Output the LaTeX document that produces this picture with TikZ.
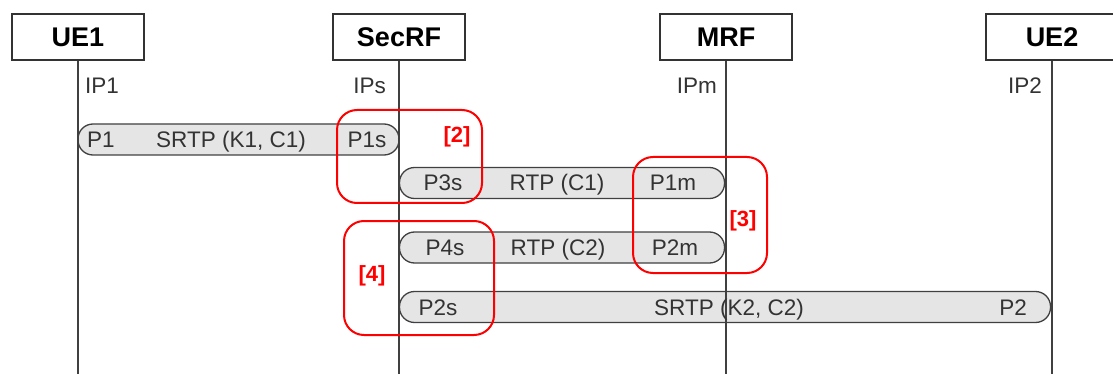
\documentclass[tikz,border=0pt]{standalone}
\usepackage{fontspec}
\setmainfont{Liberation Sans}
\begin{document}
\begin{tikzpicture}[x=1pt,y=-1pt,
 ent/.style={draw=black!80, line width=1.5pt, minimum width=132pt, minimum height=46pt, inner sep=0pt, font=\fontsize{27}{30}\selectfont\bfseries},
 pipe/.style={draw=black!75, line width=1.3pt, fill=black!10, rounded corners=15pt, minimum height=31pt, inner sep=0pt},
 lbl/.style={font=\fontsize{22.5}{26}\selectfont, text=black!80, inner sep=0pt, text height=16pt, text depth=0pt},
 grp/.style={draw=red, line width=2pt, rounded corners=20pt, inner sep=0pt},
 tag/.style={font=\fontsize{22}{24}\selectfont\bfseries, text=red, inner sep=0pt, text height=16pt, text depth=0pt},
 life/.style={draw=black!75, line width=1.3pt}]
\useasboundingbox (0,0) rectangle (1113,374);
% entities
\node[ent] (ue1) at (78,37) {UE1};
\node[ent] (sec) at (399,37) {SecRF};
\node[ent] (mrf) at (726,37) {MRF};
\node[ent] (ue2) at (1052,37) {UE2};
% pipes
\node[pipe, minimum width=321pt] (p1) at (238.5,139.5) {};
\node[pipe, minimum width=325pt] (p2) at (562,183) {};
\node[pipe, minimum width=325pt] (p3) at (562,247.5) {};
\node[pipe, minimum width=651pt] (p4) at (725,307) {};
% lifelines
\coordinate (ue1end) at (78,374);
\coordinate (secend) at (399,374);
\coordinate (mrfend) at (726,374);
\coordinate (ue2end) at (1052,374);
\draw[life] (ue1.south) -- (ue1end);
\draw[life] (sec.south) -- (secend);
\draw[life] (mrf.south) -- (mrfend);
\draw[life] (ue2.south) -- (ue2end);
% IP labels
\node[lbl, anchor=west] (ip1) at (85,86) {IP1};
\node[lbl, anchor=east] (ips) at (386,86) {IPs};
\node[lbl, anchor=east] (ipm) at (717,86) {IPm};
\node[lbl, anchor=east] (ip2) at (1042,86) {IP2};
% pipe labels
\node[lbl] (t11) at (101,139.5) {P1};
\node[lbl] (t12) at (231,139.5) {SRTP (K1, C1)};
\node[lbl] (t13) at (367,139.5) {P1s};
\node[lbl] (t21) at (443,183) {P3s};
\node[lbl] (t22) at (557,183) {RTP (C1)};
\node[lbl] (t23) at (673,183) {P1m};
\node[lbl] (t31) at (445,247.5) {P4s};
\node[lbl] (t32) at (558,247.5) {RTP (C2)};
\node[lbl] (t33) at (675,247.5) {P2m};
\node[lbl] (t41) at (438,307) {P2s};
\node[lbl] (t42) at (729,307) {SRTP (K2, C2)};
\node[lbl] (t43) at (1013,307) {P2};
% red groups
\node[grp, minimum width=145pt, minimum height=93pt] (g2) at (409.5,156.5) {};
\node[grp, minimum width=134pt, minimum height=116pt] (g3) at (700,215) {};
\node[grp, minimum width=150pt, minimum height=114pt] (g4) at (419,278) {};
\node[tag] (l2) at (457,135) {[2]};
\node[tag] (l3) at (743,218) {[3]};
\node[tag] (l4) at (372,273) {[4]};
\end{tikzpicture}
\end{document}
